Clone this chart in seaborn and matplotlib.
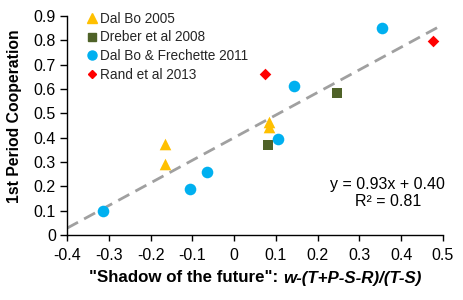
import matplotlib
matplotlib.use("Agg")
import matplotlib.pyplot as plt
import seaborn as sns
import pandas as pd
import numpy as np
from matplotlib.lines import Line2D
from matplotlib.offsetbox import TextArea, HPacker, AnchoredOffsetbox

sns.set_theme(style="ticks")
plt.rcParams['font.family'] = ['Liberation Sans', 'DejaVu Sans']
plt.rcParams['axes.unicode_minus'] = False

# Data
studies = ["Dal Bo 2005", "Dreber et al 2008", "Dal Bo & Frechette 2011", "Rand et al 2013"]
dalbo05_x = [-0.165, -0.165, 0.083, 0.083]
dalbo05_y = [0.374, 0.292, 0.465, 0.445]
dreber_x = [0.081, 0.246]
dreber_y = [0.370, 0.584]
dbf_x = [0.354, 0.143, 0.105, -0.314, -0.106, -0.065]
dbf_y = [0.851, 0.612, 0.394, 0.099, 0.189, 0.259]
rand_x = [0.074, 0.476]
rand_y = [0.662, 0.797]
slope, intercept = 0.93, 0.40
fit_x = [-0.4, 0.5]
x_ticks = [-0.4, -0.3, -0.2, -0.1, 0, 0.1, 0.2, 0.3, 0.4, 0.5]
y_ticks = [0, 0.1, 0.2, 0.3, 0.4, 0.5, 0.6, 0.7, 0.8, 0.9]

colors = {studies[0]: "#FFC000", studies[1]: "#4F6228", studies[2]: "#00B0F0", studies[3]: "#FF0000"}
markers = {studies[0]: "^", studies[1]: "s", studies[2]: "o", studies[3]: "D"}
sizes = {studies[0]: 70, studies[1]: 45, studies[2]: 70, studies[3]: 35}

df = pd.concat([
    pd.DataFrame({"x": dalbo05_x, "y": dalbo05_y, "study": studies[0]}),
    pd.DataFrame({"x": dreber_x, "y": dreber_y, "study": studies[1]}),
    pd.DataFrame({"x": dbf_x, "y": dbf_y, "study": studies[2]}),
    pd.DataFrame({"x": rand_x, "y": rand_y, "study": studies[3]}),
], ignore_index=True)

fig = plt.figure(figsize=(4.63, 3.00), dpi=100)
ax = fig.add_axes([67/463, 1 - 235/300, (443-67)/463, (235-16)/300])

fit_df = pd.DataFrame({"x": fit_x, "y": [slope * v + intercept for v in fit_x]})
sns.lineplot(data=fit_df, x="x", y="y", ax=ax, color="#A0A0A0", lw=2.0,
             dashes=False, linestyle=(0, (4.5, 2.5)), zorder=1)

for s in studies:
    sub = df[df.study == s]
    sns.scatterplot(data=sub, x="x", y="y", ax=ax, color=colors[s], marker=markers[s],
                    s=sizes[s], linewidth=0, legend=False, zorder=3)

ax.set_xlim(-0.4, 0.5)
ax.set_ylim(0, 0.9)
ax.set_xticks(x_ticks)
ax.set_xticklabels([f"{v:g}" for v in x_ticks])
ax.set_yticks(y_ticks)
ax.set_yticklabels([f"{v:g}" for v in y_ticks])
ax.tick_params(axis="both", labelsize=11.5, width=1, color="black", labelcolor="black")
ax.tick_params(axis="x", length=4, pad=5)
ax.tick_params(axis="y", length=5, pad=3)
for sp in ["top", "right"]:
    ax.spines[sp].set_visible(False)
for sp in ["left", "bottom"]:
    ax.spines[sp].set_color("black")
    ax.spines[sp].set_linewidth(1)

ax.set_ylabel("")
ax.set_xlabel("")
fig.text(15/463, 1 - 116/300, "1st Period Cooperation", rotation=90, ha="center", va="center",
         fontsize=11.3, fontweight="bold", color="black")

handles = [Line2D([], [], linestyle="none", marker=markers[s], color=colors[s],
                  markersize={"^": 6.5, "s": 5.5, "o": 6.5, "D": 4.5}[markers[s]]) for s in studies]
leg = ax.legend(handles, studies, loc="upper left", frameon=False, fontsize=9.8,
                bbox_to_anchor=(0.04, 1.045), handlelength=0.6, handletextpad=0.35,
                labelspacing=0.35, borderaxespad=0)

ax.text(0.368, 0.173, "y = 0.93x + 0.40\nR² = 0.81", ha="center", va="center",
        fontsize=11.5, color="black", linespacing=1.2)

t1 = TextArea('"Shadow of the future": ', textprops=dict(fontsize=12.2, fontweight="bold", color="black"))
t2 = TextArea('w-(T+P-S-R)/(T-S)', textprops=dict(fontsize=12.2, fontweight="bold", style="italic", color="black"))
box = HPacker(children=[t1, t2], align="baseline", pad=0, sep=0)
ab = AnchoredOffsetbox(loc="center", child=box, frameon=False,
                       bbox_to_anchor=(255 / 463, (300 - 278) / 300), bbox_transform=fig.transFigure,
                       pad=0, borderpad=0)
fig.add_artist(ab)

fig.savefig("out.png", dpi=100)
